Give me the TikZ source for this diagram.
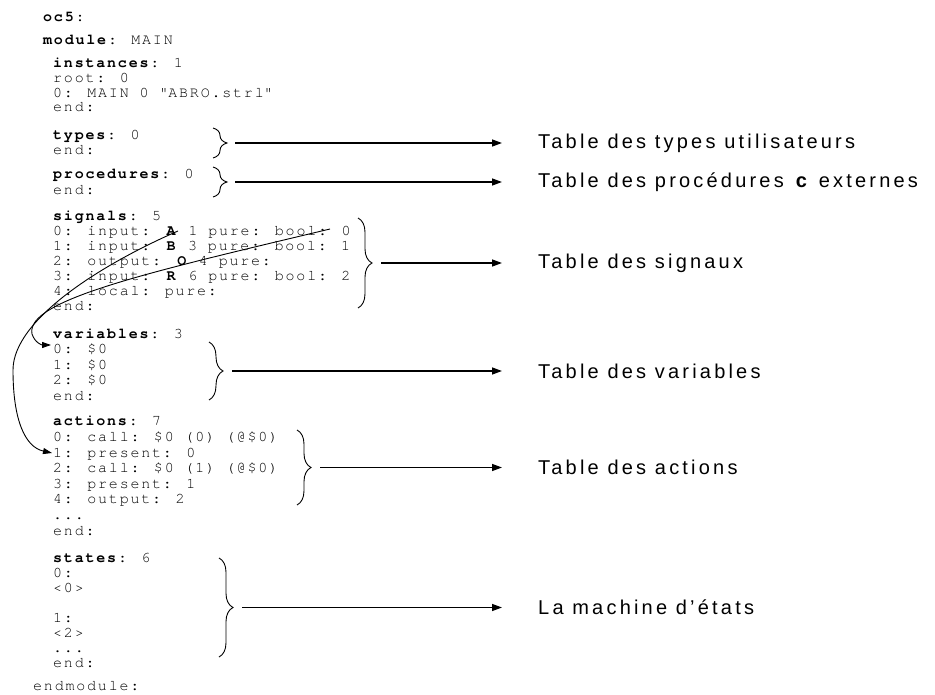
\documentclass[tikz,border=0pt]{standalone}
\usepackage{fontspec}
\newfontfamily\labelfont{Liberation Sans}[LetterSpace=16]
\newfontfamily\codefont{texgyrecursor}[Extension=.otf, UprightFont=*-regular, BoldFont=*-bold, LetterSpace=12]
\usetikzlibrary{decorations.pathreplacing, arrows.meta}

\tikzset{
  code/.style={anchor=base west, inner sep=0pt, align=left,
    font=\codefont\fontsize{15}{#1}\selectfont},
  code/.default=15,
  lbl/.style={anchor=west, inner sep=0pt, font=\labelfont\fontsize{20}{24}\selectfont},
  brc/.style={decorate, decoration={brace, amplitude=14pt}, line width=0.9pt},
  pointer/.style={-{Triangle[length=10pt,width=7pt]}, line width=1.4pt, shorten >=36pt},
  link/.style={-{Triangle[length=9pt,width=6pt]}, line width=0.9pt},
}

\begin{document}
\begin{tikzpicture}[x=1pt, y=-1pt]
\useasboundingbox (0,0) rectangle (935,695);

% le fichier oc5 (position = ligne de base de la derniere ligne)
\node[code] (hdr) at (43,22) {\textbf{oc5}:};
\node[code] (mod) at (43,45) {\textbf{module}: MAIN};
\node[code=14.7] (inst) at (53,112) {\textbf{instances}: 1\\root: 0\\0: MAIN 0 \textquotedbl ABRO.strl\textquotedbl\\end:};
\node[code] (typ) at (53,155) {\textbf{types}: 0\\end:};
\node[code=16] (proc) at (53,195) {\textbf{procedures}: 0\\end:};
\node[code] (sig) at (53,310) {\textbf{signals}: 5\\
  0: input: \textbf{A} 1 pure: bool: 0\\
  1: input: \textbf{B} 3 pure: bool: 1\\
  2: output: \textbf{O} 4 pure:\\
  3: input: \textbf{R} 6 pure: bool: 2\\
  4: local: pure:\\
  end:};
\node[code=15.5] (var) at (53,400) {\textbf{variables}: 3\\0: \$0\\1: \$0\\2: \$0\\end:};
\node[code=15.6] (act) at (53,535) {\textbf{actions}: 7\\
  0: call: \$0 (0) (@\$0)\\
  1: present: 0\\
  2: call: \$0 (1) (@\$0)\\
  3: present: 1\\
  4: output: 2\\
  ...\\
  end:};
\node[code=14.9] (sta) at (53,667) {\textbf{states}: 6\\0:\\<0>\\[14.9pt]1:\\<2>\\...\\end:};
\node[code] (endm) at (33,690) {endmodule:};

% accolades
\draw[brc] (213,128) -- (213,158);
\draw[brc] (213,167) -- (213,197);
\draw[brc] (358,218) -- (358,308);
\draw[brc] (209,342) -- (209,400);
\draw[brc] (297,430) -- (297,505);
\draw[brc] (219,558) -- (219,657);
\coordinate (tTyp) at (227,143);
\coordinate (tProc) at (227,182);
\coordinate (tSig) at (372,263);
\coordinate (tVar) at (223,371);
\coordinate (tAct) at (311,467.5);
\coordinate (tSta) at (233,607.5);

% legendes
\node[lbl] (lTyp) at (538,143) {Table des types utilisateurs};
\node[lbl] (lProc) at (538,182) {Table des procédures \textbf{c} externes};
\node[lbl] (lSig) at (538,263) {Table des signaux};
\node[lbl] (lVar) at (538,371) {Table des variables};
\node[lbl] (lAct) at (538,467.5) {Table des actions};
\node[lbl] (lSta) at (538,607.5) {La machine d’états};

\draw[pointer, shorten <=8pt] (tTyp) -- (lTyp);
\draw[pointer, shorten <=8pt] (tProc) -- (lProc);
\draw[pointer, shorten <=9pt] (tSig) -- (lSig);
\draw[pointer, shorten <=9pt] (tVar) -- (lVar);
\draw[pointer, shorten <=9pt] (tAct) -- (lAct);
\draw[pointer, shorten <=9pt] (tSta) -- (lSta);

% renvois signal -> action / variable
\coordinate (sA) at (178,231);
\coordinate (dAct) at (52,453);
\coordinate (sBool) at (330,229);
\coordinate (dVar) at (51,345);
\draw[link] (sA) .. controls (100,265) and (13,320) .. (13,370)
  .. controls (13,420) and (25,447) .. (dAct);
\draw[link] (sBool) .. controls (150,272) and (25,300) .. (32,334)
  .. controls (35,343) and (42,345) .. (dVar);
\end{tikzpicture}
\end{document}
